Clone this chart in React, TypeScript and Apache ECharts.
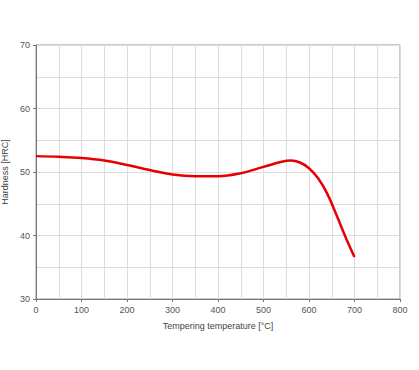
import React, { useEffect, useRef } from "react";
import * as echarts from "echarts";

const temperatures = [0, 50, 100, 150, 200, 250, 300, 350, 400, 450, 500, 540, 560, 580, 600, 620, 640, 660, 680, 700];
const hardness = [52.5, 52.4, 52.2, 51.8, 51.1, 50.3, 49.6, 49.35, 49.35, 49.8, 50.8, 51.6, 51.8, 51.5, 50.6, 49.0, 46.6, 43.3, 39.8, 36.6];

const xName = "Tempering temperature [°C]";
const yName = "Hardness [HRC]";

export default function App() {
  const ref = useRef<HTMLDivElement>(null);
  useEffect(() => {
    if (!ref.current) return;
    const chart = echarts.init(ref.current, null, { renderer: "svg" });
    const font = "Liberation Sans, Arial, sans-serif";
    chart.setOption({
      animation: false,
      backgroundColor: "#fff",
      grid: {
        left: 36, right: 19, top: 45, bottom: 71,
        containLabel: false, outerBoundsMode: "none",
        show: true, borderColor: "#999", borderWidth: 1,
      },
      xAxis: {
        type: "value",
        min: 0,
        max: 800,
        interval: 100,
        name: xName,
        nameLocation: "middle",
        nameGap: 22,
        nameTextStyle: { color: "#444", fontSize: 9, fontFamily: font },
        axisLine: { show: true, lineStyle: { color: "#777" } },
        axisTick: { show: true, length: 3, lineStyle: { color: "#777" } },
        axisLabel: { color: "#555", fontSize: 9, fontFamily: font, margin: 6 },
        splitLine: { show: true, lineStyle: { color: "#ddd" } },
        minorTick: { show: false, splitNumber: 2 },
        minorSplitLine: { show: true, lineStyle: { color: "#ddd" } },
      },
      yAxis: {
        type: "value",
        min: 30,
        max: 70,
        interval: 10,
        name: yName,
        nameLocation: "middle",
        nameGap: 22,
        nameTextStyle: { color: "#444", fontSize: 9, fontFamily: font },
        axisLine: { show: true, lineStyle: { color: "#777" } },
        axisTick: { show: true, length: 3, lineStyle: { color: "#777" } },
        axisLabel: { color: "#555", fontSize: 9, fontFamily: font, margin: 6 },
        splitLine: { show: true, lineStyle: { color: "#ddd" } },
        minorTick: { show: false, splitNumber: 2 },
        minorSplitLine: { show: true, lineStyle: { color: "#ddd" } },
      },
      series: [
        {
          type: "line",
          data: temperatures.map((t, i) => [t, hardness[i]]),
          smooth: 0.4,
          showSymbol: false,
          lineStyle: { color: "#e60000", width: 2.5 },
        },
      ],
    });
    return () => chart.dispose();
  }, []);
  return <div ref={ref} style={{ width: 419, height: 370, position: "absolute", left: 0, top: 0 }} />;
}
